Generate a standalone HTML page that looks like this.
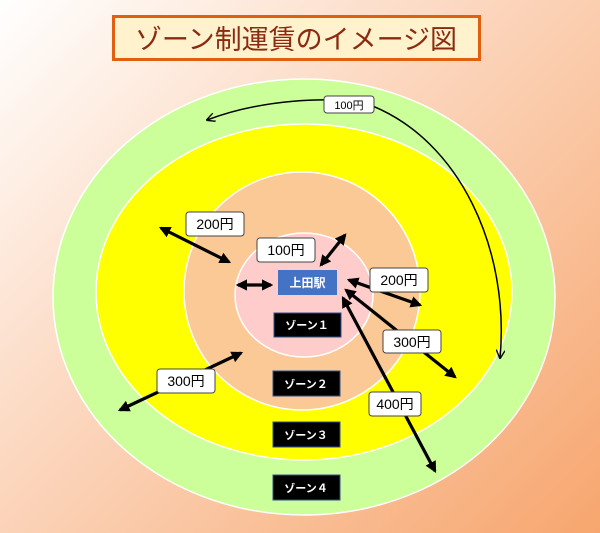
<!DOCTYPE html>
<html><head><meta charset="utf-8"><style>
body{margin:0;width:600px;height:533px;overflow:hidden;background:linear-gradient(135deg,#ffffff 0%,#fcd9c2 40%,#f7a66e 100%);font-family:"Liberation Sans","Noto Sans CJK JP",sans-serif;}
svg{position:absolute;left:0;top:0}
</style></head><body>
<svg width="600" height="533" viewBox="0 0 600 533">
<defs>
<marker id="a" viewBox="0 0 10 10" refX="8" refY="5" markerWidth="3.6" markerHeight="3.6" orient="auto-start-reverse"><path d="M0,0L10,5L0,10z" fill="#000"/></marker>
<marker id="t" viewBox="0 0 10 10" refX="9" refY="5" markerWidth="9" markerHeight="9" orient="auto-start-reverse" markerUnits="userSpaceOnUse"><path d="M0,0L10,5L0,10" fill="none" stroke="#000" stroke-width="1.5"/></marker>
</defs>
<rect x="113.5" y="16.5" width="366" height="43" fill="#fff2cc" stroke="#e0600f" stroke-width="3"/>
<text x="296" y="49" font-size="27" fill="#8b2a10" text-anchor="middle" font-family="Liberation Sans,Noto Sans CJK JP,sans-serif">ゾーン制運賃のイメージ図</text>
<ellipse cx="304" cy="297" rx="251" ry="218" fill="#ccff99" stroke="#fff" stroke-width="1.5"/>
<ellipse cx="304" cy="292" rx="208" ry="168" fill="#ffff00" stroke="#fff" stroke-width="1.5"/>
<ellipse cx="302" cy="291" rx="118" ry="119" fill="#fbc996" stroke="#fff" stroke-width="1.5"/>
<ellipse cx="304" cy="295" rx="69" ry="62" fill="#ffcccc" stroke="#fff" stroke-width="1.5"/>
<path d="M207,120 C260,100 330,95 370,105 C460,140 510,250 500,358" fill="none" stroke="#000" stroke-width="1.5" marker-start="url(#t)" marker-end="url(#t)"/>
<g stroke="#000" stroke-width="3.2" marker-start="url(#a)" marker-end="url(#a)" fill="none">
<line x1="161" y1="228" x2="229" y2="262"/>
<line x1="238" y1="285" x2="271" y2="285"/>
<line x1="321" y1="265" x2="345" y2="235"/>
<line x1="349" y1="280" x2="420" y2="305"/>
<line x1="346" y1="290" x2="455" y2="377"/>
<line x1="343" y1="298" x2="435" y2="471"/>
<line x1="120" y1="410" x2="241" y2="353"/>
</g>
<rect x="278" y="270" width="59" height="25" fill="#4472c4"/>
<text x="307.5" y="287" font-size="12" fill="#fff" text-anchor="middle" font-weight="bold">上田駅</text>
<g fill="#000" stroke="#2f4f8f" stroke-width="1">
<rect x="274" y="313" width="67" height="24"/>
<rect x="273" y="371" width="67" height="25"/>
<rect x="273" y="422" width="67" height="25"/>
<rect x="273" y="475" width="67" height="25"/>
</g>
<g fill="#fff" font-size="11" font-weight="bold" text-anchor="middle">
<text x="307" y="329">ゾーン１</text>
<text x="306" y="388">ゾーン２</text>
<text x="306" y="439">ゾーン３</text>
<text x="306" y="492">ゾーン４</text>
</g>
<g fill="#fff" stroke="#444" stroke-width="1">
<rect x="186" y="212" width="58" height="24" rx="3"/>
<rect x="257" y="238" width="58" height="24" rx="3"/>
<rect x="370" y="268" width="58" height="24" rx="3"/>
<rect x="383" y="330" width="58" height="23" rx="3"/>
<rect x="369" y="392" width="52" height="24" rx="3"/>
<rect x="157" y="369" width="58" height="24" rx="3"/>
<rect x="324" y="96" width="50" height="17" rx="3"/>
</g>
<g fill="#000" font-size="14" text-anchor="middle">
<text x="215" y="229">200円</text>
<text x="286" y="255">100円</text>
<text x="399" y="285">200円</text>
<text x="412" y="347">300円</text>
<text x="395" y="409">400円</text>
<text x="186" y="386">300円</text>
<text x="349" y="109" font-size="11">100円</text>
</g>
</svg>
</body></html>
